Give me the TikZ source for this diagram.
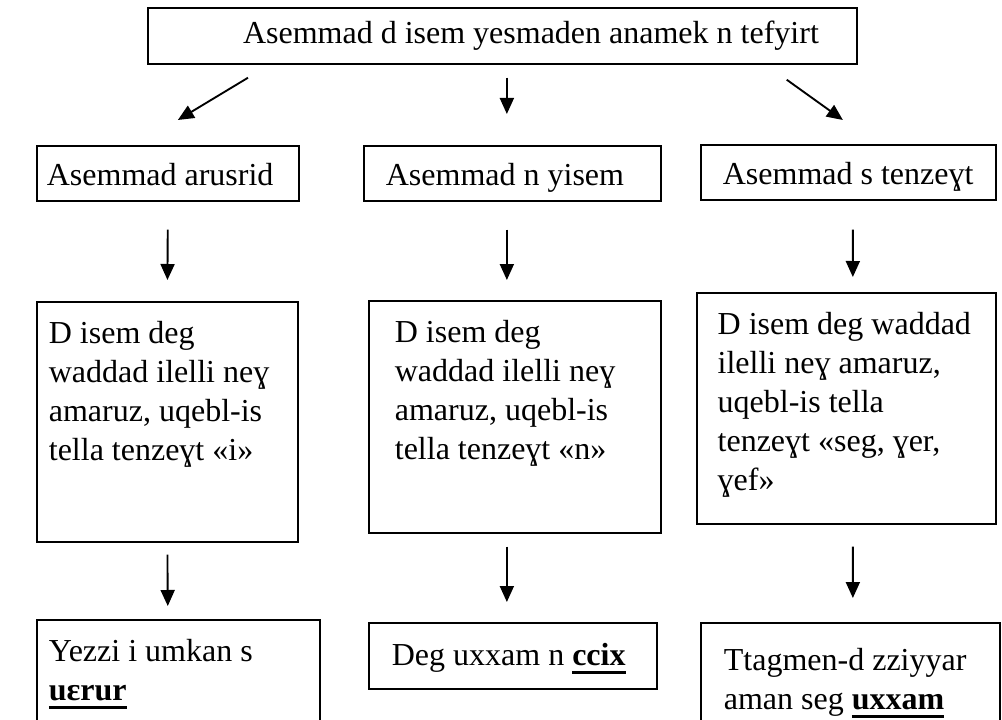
\documentclass[tikz,border=0pt]{standalone}
\usepackage{fontspec}
\setmainfont{Liberation Serif}
\usetikzlibrary{arrows.meta}

\newcommand{\boxtext}[3]{\parbox[t][#1][t]{#2}{\raggedright\strut #3}}
\newcommand{\ulbold}[1]{\leavevmode\setbox0=\hbox{\textbf{#1}}\rlap{\rule[-6pt]{\wd0}{2.4pt}}\box0}

\begin{document}
\begin{tikzpicture}[x=0.75pt, y=-0.75pt,
            textbox/.style={rectangle, draw=black, line width=1.3pt, anchor=north west, inner ysep=11pt, font=\fontsize{24pt}{29.25pt}\selectfont},
            linebox/.style={textbox, inner ysep=9.5pt},
            flowarrow/.style={-{Triangle[length=12pt,width=10.5pt]}, line width=1.4pt},
        ]
        \useasboundingbox (0,0) rectangle (1002,720);
        \clip (0,0) rectangle (1002,720);
        \node[linebox, inner xsep=28.5pt, inner ysep=6pt] (title) at (147,7) {\parbox[t][30pt][t]{474.75pt}{\raggedleft\strut Asemmad d isem yesmaden anamek n tefyirt}};
        \node[linebox, inner xsep=7.5pt]   (arusrid) at (36,145)  {\boxtext{22.2pt}{181.5pt}{Asemmad arusrid}};
        \node[linebox, inner xsep=16.5pt]  (yisem)   at (363,145) {\boxtext{22.2pt}{189.75pt}{Asemmad n yisem}};
        \node[linebox, inner xsep=16.5pt]  (tenzeyt) at (700,144) {\boxtext{22.2pt}{188.25pt}{Asemmad s tenzeɣt}};
        \node[textbox, inner xsep=9pt]     (defI)    at (36,301)  {\boxtext{158pt}{177.75pt}{D isem deg\\waddad ilelli neɣ\\amaruz, uqebl-is\\tella tenzeɣt «i»}};
        \node[textbox, inner xsep=19.5pt]  (defN)    at (368,300) {\boxtext{152pt}{180pt}{D isem deg\\waddad ilelli neɣ\\amaruz, uqebl-is\\tella tenzeɣt «n»}};
        \node[textbox, inner xsep=15.6pt]  (defSeg)  at (696,292) {\boxtext{151.2pt}{193pt}{D isem deg waddad\\ilelli neɣ amaruz,\\uqebl-is tella\\tenzeɣt «seg, ɣer,\\ɣef»}};
        \node[textbox, inner xsep=9pt]     (exI)     at (36,619)  {\boxtext{150pt}{194.25pt}{Yezzi i umkan s\\\ulbold{uɛrur}}};
        \node[textbox, inner xsep=17.25pt, inner ysep=11.8pt] (exN) at (368,622) {\boxtext{26pt}{181.5pt}{Deg uxxam n \ulbold{ccix}}};
        \node[textbox, inner xsep=17.25pt, inner ysep=15.5pt] (exSeg) at (700,622) {\boxtext{150pt}{189.75pt}{Ttagmen-d zziyyar\\aman seg \ulbold{uxxam}}};
        \draw[flowarrow] ([xshift=75.75pt,yshift=-9.75pt]title.south west) -- ([xshift=7.5pt,yshift=18.75pt]arusrid.north);
        \draw[flowarrow, shorten <=9.75pt, shorten >=23.25pt] ([xshift=3.375pt]title.south) -- ([xshift=-4.125pt]yisem.north);
        \draw[flowarrow] ([xshift=-53.25pt,yshift=-11.25pt]title.south east) -- ([xshift=-4.125pt,yshift=18pt]tenzeyt.north);
        \draw[flowarrow, shorten <=21pt, shorten >=15.75pt] (arusrid.south) -- (defI.north);
        \draw[flowarrow, shorten <=21pt, shorten >=15pt] ([xshift=-4.125pt]yisem.south) -- ([xshift=-6pt]defN.north);
        \draw[flowarrow, shorten <=21.75pt, shorten >=11.25pt] ([xshift=3.375pt]tenzeyt.south) -- ([xshift=4.875pt]defSeg.north);
        \draw[flowarrow, shorten <=9pt, shorten >=9.75pt] (defI.south) -- ([xshift=-7.875pt]exI.north);
        \draw[flowarrow, shorten <=9.75pt, shorten >=15pt] ([xshift=-6pt]defN.south) -- ([xshift=-4.5pt]exN.north);
        \draw[flowarrow, shorten <=16.5pt, shorten >=18pt] ([xshift=4.875pt]defSeg.south) -- ([xshift=1.875pt]exSeg.north);
    \end{tikzpicture}
\end{document}
